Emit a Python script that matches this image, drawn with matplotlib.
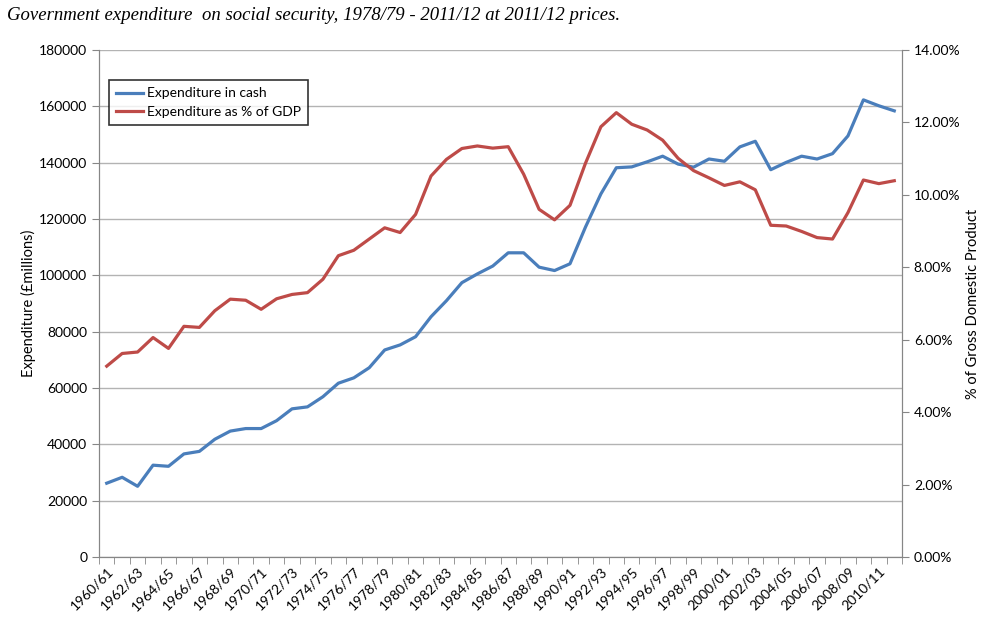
import numpy as np
import matplotlib
matplotlib.use("Agg")
import matplotlib.pyplot as plt
from matplotlib.ticker import FixedLocator, FuncFormatter

# years 1960/61 .. 2011/12
years = [f"{y}/{str(y + 1)[-2:]}" for y in range(1960, 2012)]

# expenditure in cash, £ millions (2011/12 prices)
cash = [26200, 28300, 25100, 32600, 32200, 36600, 37500, 41800, 44700, 45600,
        45600, 48400, 52600, 53300, 56900, 61700, 63600, 67200, 73500, 75300,
        78200, 85300, 91000, 97400, 100500, 103300, 108000, 108000, 102900, 101700,
        104100, 117100, 128900, 138200, 138500, 140300, 142300, 139500, 138400, 141300,
        140500, 145600, 147600, 137500, 140100, 142300, 141300, 143200, 149500, 162300,
        160200, 158400]

# expenditure as % of GDP
pct_gdp = [5.27, 5.62, 5.66, 6.06, 5.76, 6.37, 6.34, 6.80, 7.12, 7.09,
           6.84, 7.13, 7.25, 7.30, 7.67, 8.32, 8.47, 8.78, 9.09, 8.96,
           9.46, 10.52, 10.98, 11.28, 11.35, 11.29, 11.33, 10.57, 9.60, 9.31,
           9.71, 10.87, 11.88, 12.27, 11.95, 11.79, 11.51, 11.01, 10.67, 10.47,
           10.26, 10.36, 10.14, 9.16, 9.14, 8.99, 8.82, 8.78, 9.51, 10.41,
           10.31, 10.39]

blue = "#4A7EBB"
red = "#BE4B48"
axis_grey = "#868686"

plt.rcParams['font.family'] = ['Lato', 'DejaVu Sans']

fig = plt.figure(figsize=(10, 6.25), dpi=100)
ax = fig.add_axes([0.099, 0.1088, 0.803, 0.8112])
ax2 = ax.twinx()

x = np.arange(len(years))
l1, = ax.plot(x, cash, color=blue, lw=2.3, label='Expenditure in cash')
l2, = ax2.plot(x, pct_gdp, color=red, lw=2.3, label='Expenditure as % of GDP')

ax.set_xlim(-0.5, len(years) - 0.5)
ax.set_ylim(0, 180000)
ax.set_yticks(np.arange(0, 180001, 20000))
ax.yaxis.grid(True, color='#b3b3b3', lw=1)
ax.set_axisbelow(True)

ax2.set_ylim(0, 14)
ax2.set_yticks(np.arange(0, 14.01, 2))
ax2.yaxis.set_major_formatter(FuncFormatter(lambda v, p: f"{v:.2f}%"))

# category boundary ticks, labels on every other category
ax.xaxis.set_major_locator(FixedLocator(x[::2]))
ax.set_xticklabels(years[::2], rotation=45, ha='right', rotation_mode='anchor', fontsize=10)
ax.xaxis.set_minor_locator(FixedLocator(np.arange(-0.5, len(years), 1)))
ax.tick_params(axis='x', which='major', length=0, pad=6)
ax.tick_params(axis='x', which='minor', length=5, color=axis_grey, direction='out')
ax.tick_params(axis='y', length=5, color=axis_grey, labelsize=10)
ax2.tick_params(axis='y', length=5, color=axis_grey, labelsize=10)

for a in (ax, ax2):
    a.spines['top'].set_visible(False)
    for s in ('left', 'right', 'bottom'):
        a.spines[s].set_color(axis_grey)

ax.set_ylabel('Expenditure (£millions)', fontsize=10.5, labelpad=2)
ax2.set_ylabel('% of Gross Domestic Product', fontsize=10.5, labelpad=4)

leg = ax.legend(handles=[l1, l2], loc='upper left', bbox_to_anchor=(0.012, 0.94),
                fontsize=10, frameon=True, fancybox=False, borderpad=0.5,
                handlelength=2.0, handletextpad=0.25, labelspacing=0.5,
                borderaxespad=0)
leg.get_frame().set_edgecolor('black')
leg.get_frame().set_linewidth(1.2)

fig.text(0.007, 0.976, 'Government expenditure  on social security, 1978/79 - 2011/12 at 2011/12 prices.',
         family='Liberation Serif', style='italic', fontsize=13.5, va='center', ha='left')

fig.savefig('out.png', dpi=100)
